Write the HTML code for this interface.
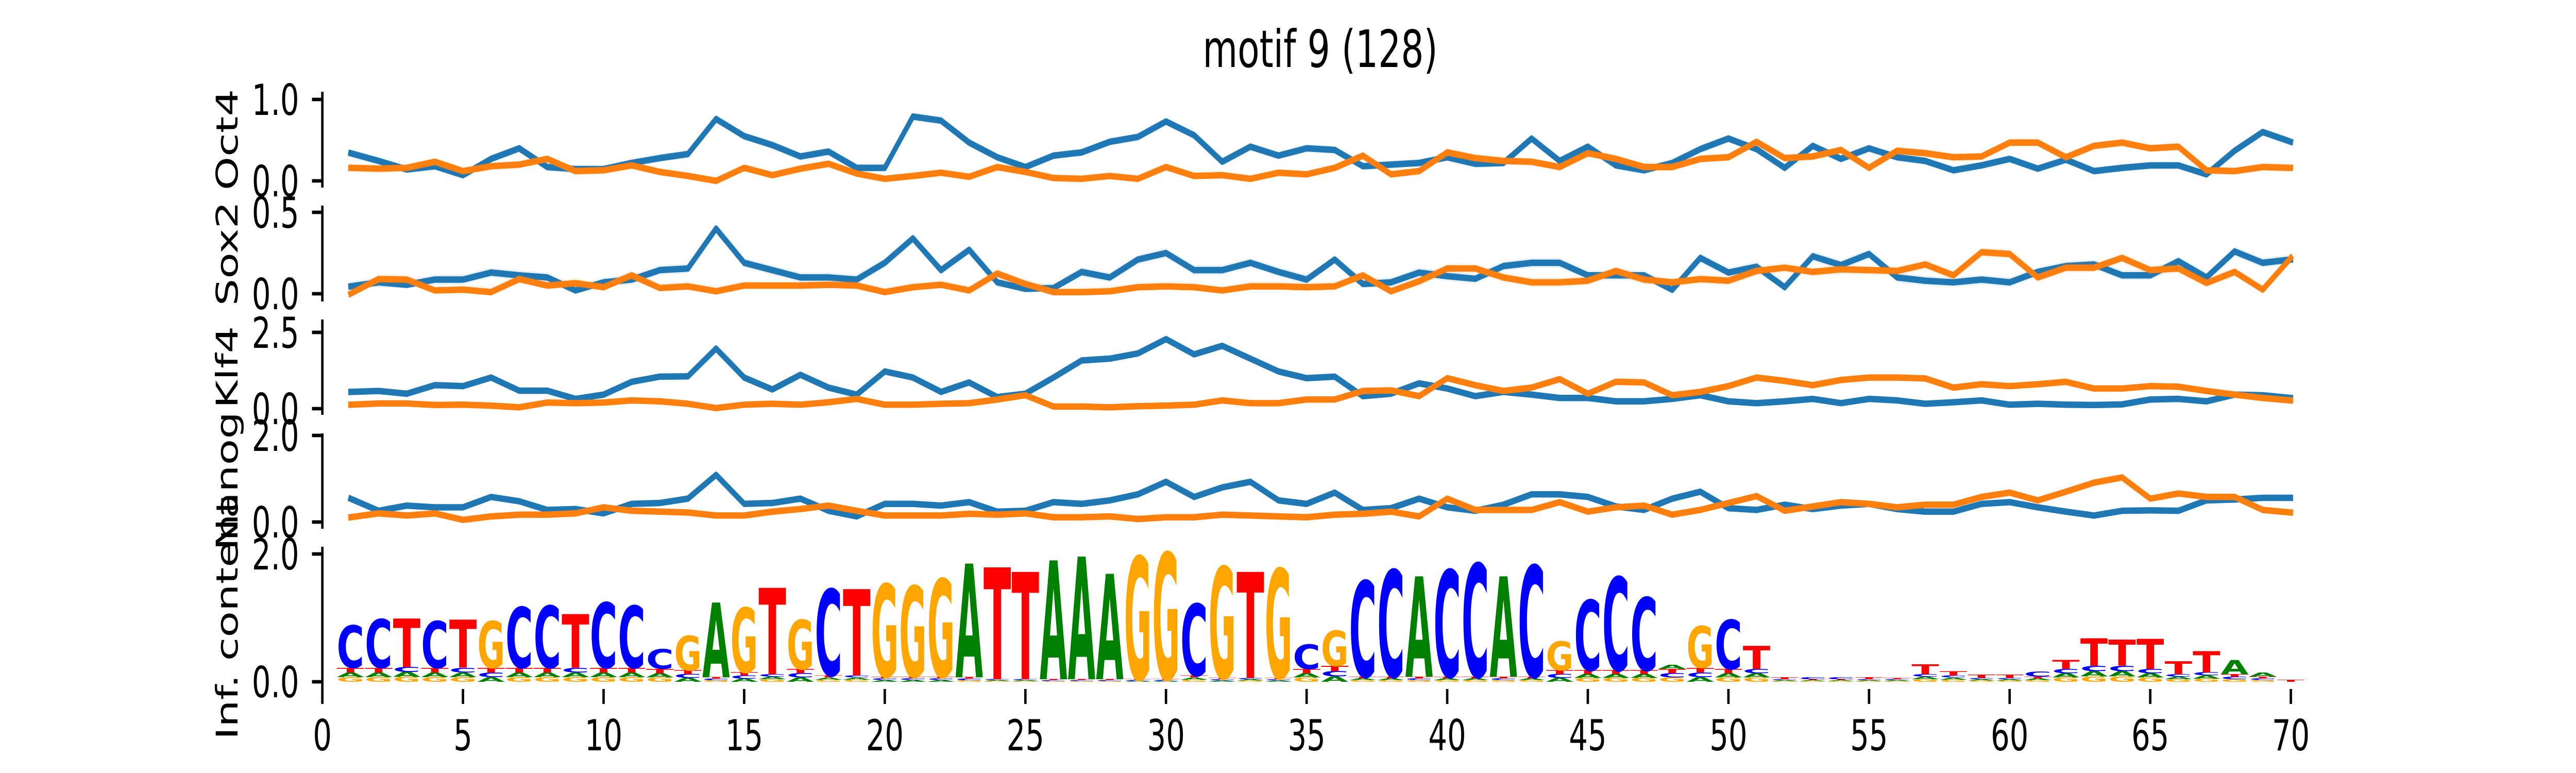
<!DOCTYPE html>
<html><head><meta charset="utf-8"><style>
html,body{margin:0;padding:0;background:#fff;overflow:hidden;width:100%;height:100%;}
svg{display:block;width:100vw;height:100vh;}
text{font-family:"DejaVu Sans","Liberation Sans",sans-serif;}
</style></head>
<body>
<svg id="fig" xmlns="http://www.w3.org/2000/svg" viewBox="0 0 7200 1500" preserveAspectRatio="none">
<rect width="7200" height="1500" fill="#fff"/>
<text x="3690" y="130" font-size="100" text-anchor="middle" fill="#000">motif 9 (128)</text>
<g id="plots"></g>
</svg>
<script>
// ---- data ----
const positions = [];
for (let i = 1; i <= 70; i++) positions.push(i);
const xTicks = [0,5,10,15,20,25,30,35,40,45,50,55,60,65,70];

const oct4Blue = [0.34,0.245,0.14,0.18,0.07,0.27,0.40,0.17,0.145,0.145,0.22,0.28,0.33,0.76,0.55,0.44,0.30,0.36,0.16,0.16,0.79,0.74,0.47,0.29,0.17,0.31,0.35,0.48,0.54,0.73,0.56,0.235,0.42,0.31,0.40,
0.38,0.18,0.20,0.22,0.29,0.21,0.22,0.52,0.245,0.42,0.19,0.13,0.22,0.39,0.52,0.39,0.16,0.43,0.27,0.40,0.29,0.245,0.13,0.19,0.27,0.15,0.26,0.12,0.16,0.19,0.19,0.08,0.37,0.60,0.48];
const oct4Orange = [0.16,0.15,0.16,0.235,0.12,0.18,0.20,0.27,0.12,0.13,0.19,0.11,0.06,0.0,0.16,0.07,0.15,0.21,0.09,0.025,0.06,0.10,0.05,0.17,0.11,0.035,0.025,0.06,0.025,0.17,0.06,0.07,0.025,0.10,0.08,
0.16,0.31,0.08,0.12,0.35,0.28,0.245,0.235,0.17,0.34,0.27,0.17,0.17,0.27,0.29,0.48,0.28,0.30,0.38,0.16,0.37,0.34,0.29,0.30,0.47,0.47,0.29,0.43,0.47,0.40,0.42,0.13,0.12,0.17,0.16];
const sox2Blue = [0.045,0.07,0.055,0.087,0.087,0.13,0.113,0.10,0.02,0.07,0.087,0.145,0.155,0.40,0.19,0.145,0.10,0.10,0.087,0.19,0.34,0.145,0.27,0.07,0.03,0.035,0.134,0.10,0.21,0.25,0.145,0.145,0.19,0.134,0.087,
0.21,0.06,0.07,0.13,0.108,0.092,0.17,0.19,0.19,0.113,0.113,0.113,0.024,0.22,0.13,0.166,0.04,0.23,0.176,0.244,0.10,0.08,0.07,0.087,0.07,0.134,0.17,0.18,0.113,0.113,0.20,0.10,0.26,0.19,0.21];
const sox2Orange = [0.0,0.09,0.087,0.02,0.025,0.01,0.09,0.05,0.065,0.04,0.113,0.035,0.045,0.015,0.05,0.05,0.05,0.055,0.05,0.01,0.04,0.055,0.02,0.124,0.06,0.01,0.01,0.015,0.04,0.045,0.04,0.02,0.045,0.045,0.04,
0.045,0.113,0.015,0.077,0.155,0.155,0.10,0.07,0.07,0.08,0.14,0.087,0.07,0.09,0.08,0.14,0.16,0.134,0.15,0.145,0.14,0.18,0.113,0.255,0.244,0.10,0.16,0.16,0.22,0.145,0.155,0.066,0.134,0.025,0.22];
const klf4Blue = [0.55,0.58,0.49,0.77,0.74,1.02,0.59,0.59,0.32,0.46,0.88,1.05,1.06,1.97,1.02,0.63,1.11,0.69,0.46,1.22,1.02,0.55,0.86,0.38,0.49,1.02,1.58,1.64,1.81,2.28,1.78,2.06,1.64,1.22,1.0,
1.05,0.41,0.49,0.83,0.66,0.41,0.55,0.46,0.35,0.35,0.24,0.24,0.32,0.44,0.24,0.18,0.24,0.32,0.18,0.32,0.27,0.16,0.21,0.27,0.13,0.16,0.13,0.12,0.14,0.30,0.32,0.24,0.46,0.44,0.35];
const klf4Orange = [0.13,0.17,0.17,0.12,0.13,0.10,0.045,0.20,0.18,0.20,0.27,0.24,0.16,0.02,0.13,0.16,0.13,0.21,0.32,0.13,0.13,0.16,0.18,0.30,0.44,0.07,0.07,0.045,0.08,0.10,0.13,0.27,0.18,0.18,0.30,
0.30,0.58,0.60,0.41,1.0,0.77,0.58,0.69,0.97,0.49,0.88,0.86,0.44,0.55,0.74,1.02,0.91,0.77,0.94,1.02,1.02,0.99,0.69,0.80,0.74,0.80,0.88,0.66,0.66,0.74,0.72,0.58,0.46,0.35,0.27];
const nanogBlue = [0.54,0.26,0.38,0.34,0.34,0.58,0.48,0.28,0.30,0.20,0.42,0.44,0.54,1.09,0.42,0.44,0.54,0.26,0.13,0.42,0.42,0.38,0.46,0.24,0.26,0.46,0.42,0.50,0.64,0.93,0.58,0.80,0.93,0.50,0.42,
0.68,0.28,0.32,0.54,0.34,0.26,0.40,0.64,0.64,0.58,0.36,0.28,0.54,0.70,0.32,0.28,0.40,0.30,0.38,0.42,0.30,0.24,0.24,0.42,0.46,0.34,0.24,0.15,0.26,0.27,0.26,0.50,0.52,0.56,0.56];
const nanogOrange = [0.11,0.20,0.15,0.20,0.05,0.13,0.17,0.17,0.20,0.34,0.26,0.24,0.22,0.15,0.15,0.24,0.30,0.38,0.26,0.15,0.15,0.15,0.19,0.17,0.20,0.11,0.11,0.13,0.07,0.11,0.11,0.17,0.15,0.13,0.11,
0.17,0.19,0.24,0.13,0.54,0.28,0.28,0.28,0.46,0.24,0.34,0.38,0.17,0.28,0.44,0.60,0.26,0.36,0.46,0.42,0.34,0.40,0.40,0.58,0.68,0.50,0.70,0.91,1.03,0.54,0.66,0.58,0.58,0.28,0.22];

const logoLetters = "CCTCTGCCTCCCGAGTGCTGGGATTAAAGGCGTGC" + "GCCACCACGCCCAGCT" + "TCCTTTTTTCTTTTTTAAT";
const logoTop = [0.88,0.98,0.99,0.95,0.97,0.95,1.17,1.19,1.06,1.24,1.19,0.51,0.72,1.24,1.16,1.47,0.97,1.45,1.45,1.53,1.50,1.61,1.85,1.79,1.72,1.90,1.96,1.69,1.96,2.02,1.22,1.80,1.72,1.77,0.58,
0.80,1.58,1.75,1.65,1.75,1.85,1.65,1.82,0.63,1.28,1.64,1.32,0.26,0.87,0.97,0.56,
0.07,0.07,0.07,0.07,0.06,0.27,0.16,0.11,0.11,0.16,0.34,0.68,0.66,0.67,0.32,0.48,0.34,0.14,0.03];
const logoBase = [0.22,0.22,0.23,0.22,0.22,0.22,0.22,0.22,0.22,0.22,0.22,0.2,0.18,0.07,0.15,0.12,0.2,0.1,0.1,0.08,0.08,0.08,0.07,0.04,0.04,0.04,0.04,0.04,0.04,0.04,0.1,0.06,0.06,0.06,0.2,
0.25,0.08,0.08,0.08,0.08,0.08,0.08,0.08,0.18,0.18,0.18,0.18,0.2,0.22,0.2,0.2,
0.04,0.04,0.04,0.04,0.04,0.12,0.1,0.06,0.06,0.08,0.2,0.25,0.25,0.2,0.12,0.15,0.12,0.08,0.0];

const panelNames = ["Oct4","Sox2","Klf4","Nanog"];
const panelTickValues = [[0,1],[0,0.5],[0,2.5],[0,2]];
const panelTickLabels = [["0.0","1.0"],["0.0","0.5"],["0.0","2.5"],["0.0","2.0"]];
const logoTickValues = [0,2];
const logoTickLabels = ["0.0","2.0"];

// ---- layout (style) ----
const X0 = 901, XU = 78.6;
const panels = [
  {top:178, bottom:364, zero:351, unit:158, band:0.05},
  {top:399, bottom:585, zero:570, unit:316, band:0.03},
  {top:620, bottom:805, zero:793, unit:59.2, band:0.1},
  {top:841, bottom:1026, zero:1013, unit:84, band:0.06}
];
const logoAx = {top:1061, bottom:1364, zero:1323, unit:124};
const BLUE = "#1f77b4", ORANGE = "#ff7f0e";
const colors = {A:"#008000", C:"#0000ff", G:"#ffa500", T:"#ff0000"};
const glyphW = {A:0.774, C:0.734, G:0.821, T:0.682};
const NS = "http://www.w3.org/2000/svg";
const root = document.getElementById("plots");

function xs(v){ return X0 + v * XU; }
function mk(tag, attrs, parent){
  const e = document.createElementNS(NS, tag);
  for (const k in attrs) e.setAttribute(k, attrs[k]);
  (parent || root).appendChild(e);
  return e;
}

const seriesByPanel = [[oct4Blue,oct4Orange],[sox2Blue,sox2Orange],[klf4Blue,klf4Orange],[nanogBlue,nanogOrange]];

function drawYAxis(g, ax, vals, labels, name){
  const sp = mk("line", {x1:X0, x2:X0, y1:ax.top, y2:ax.bottom, stroke:"#000", "stroke-width":6.7}, g);
  
  
  vals.forEach((v, i) => {
    const y = ax.zero - v * ax.unit;
    const t = mk("line", {x1:X0-29, x2:X0, y1:y, y2:y, stroke:"#000", "stroke-width":6.7}, g);
    
    
    const l = mk("text", {x:836, y:y+30, "font-size":83, "text-anchor":"end", fill:"#000"}, g);
    l.textContent = labels[i];
    
    
  });
}

function drawYLabel(g, text, yc, name){
  const t = mk("text", {x:0, y:0, "font-size":83, "text-anchor":"middle", fill:"#000",
    transform:"translate(664," + yc + ") rotate(-90)"}, g);
  t.textContent = text;
  
  
}

panels.forEach((ax, pi) => {
  const g = mk("g", {});
  const nm = panelNames[pi].toLowerCase();
  
  
  const ys = v => ax.zero - v * ax.unit;
  seriesByPanel[pi].forEach((vals, si) => {
    const col = si === 0 ? BLUE : ORANGE;
    let up = "", dn = "";
    positions.forEach((p, i) => { up += (i ? "L" : "M") + xs(p) + "," + ys(vals[i] + ax.band); });
    for (let i = positions.length - 1; i >= 0; i--) dn += "L" + xs(positions[i]) + "," + ys(Math.max(vals[i] - ax.band, vals[i]*0.6));
    const band = mk("path", {d: up + dn + "Z", fill: col, "fill-opacity": 0.1, stroke:"none"}, g);
    
    
    let d = "";
    positions.forEach((p, i) => { d += (i ? "L" : "M") + xs(p) + "," + ys(vals[i]); });
    const line = mk("path", {d: d, fill:"none", stroke: col, "stroke-width":12.5, "stroke-linejoin":"round", "stroke-linecap":"square"}, g);
    
    
  });
  drawYAxis(g, ax, panelTickValues[pi], panelTickLabels[pi], nm);
  drawYLabel(g, panelNames[pi], (ax.top + ax.bottom) / 2, nm + '-y-axis-title');
});

// ---- sequence logo ----
const lg = mk("g", {});



function drawLetter(ch, cx, yBottom, hPx, name){
  if (hPx <= 0.5) return;
  const sx = (XU * 0.98) / (glyphW[ch] * 100);
  const sy = hPx / 72.9;
  const t = mk("text", {x:0, y:0, "font-size":100, "font-weight":"bold", "text-anchor":"middle",
    fill: colors[ch], transform: "translate(" + cx + "," + yBottom + ") scale(" + sx + "," + sy + ")"}, lg);
  t.textContent = ch;
  
  
}

positions.forEach((p, i) => {
  const main = logoLetters[i];
  const cx = xs(p);
  const others = "GACT".split("").filter(c => c !== main);
  const baseH = logoBase[i] * logoAx.unit;
  let y = logoAx.zero;
  others.forEach(c => {
    const h = baseH / 3;
    drawLetter(c, cx, y, h, 'logo-small-letter');
    y -= h;
  });
  const mainH = (logoTop[i] - logoBase[i]) * logoAx.unit;
  drawLetter(main, cx, y, mainH, 'logo-letter-' + p);
});

drawYAxis(lg, logoAx, logoTickValues, logoTickLabels, 'logo');
drawYLabel(lg, "Inf. content", 1200, 'logo-y-axis-title');

// x ticks
xTicks.forEach(v => {
  const x = xs(v);
  const t = mk("line", {x1:x, x2:x, y1:1337, y2:1366, stroke:"#000", "stroke-width":6.7}, lg);
  
  
  const l = mk("text", {x:x, y:1456, "font-size":83, "text-anchor":"middle", fill:"#000"}, lg);
  l.textContent = String(v);
  
  
});
</script>
</body></html>
